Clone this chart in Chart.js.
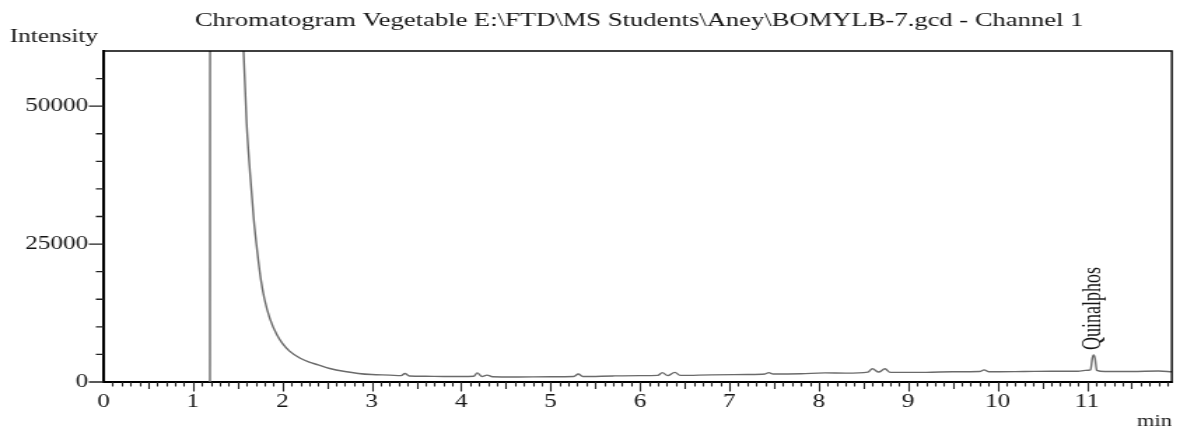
<!DOCTYPE html>
<html>
<head>
<meta charset="utf-8">
<script src="https://cdn.jsdelivr.net/npm/chart.js@4"></script>
<style>
  html, body { margin: 0; padding: 0; background: #fff; }
  #chrom { display: block; }
</style>
</head>
<body>
<!-- the source image is stretched sideways, so the canvas is drawn narrow and widened -->
<canvas id="chrom" width="843" height="428" style="width:1180px;height:428px"></canvas>
<script>
const title = "Chromatogram Vegetable E:\\FTD\\MS Students\\Aney\\BOMYLB-7.gcd - Channel 1";

// retention time (min) and detector signal
const times = [
  1.19, 1.195, 1.56, 1.60, 1.64, 1.68, 1.72, 1.76, 1.80, 1.86, 1.94, 2.00, 2.08, 2.20, 2.30, 2.40,
  2.53, 2.70, 2.85, 3.00, 3.20, 3.33, 3.37, 3.42, 3.60, 3.80, 4.00, 4.14, 4.18, 4.23, 4.29, 4.35,
  4.60, 5.00, 5.26, 5.31, 5.36, 5.70, 6.00, 6.20, 6.25, 6.31, 6.39, 6.45, 6.80, 7.20, 7.40, 7.44,
  7.49, 7.80, 8.07, 8.30, 8.55, 8.60, 8.67, 8.74, 8.80, 9.20, 9.50, 9.80, 9.85, 9.90, 10.30, 10.60,
  10.90, 10.98, 11.04, 11.06, 11.075, 11.09, 11.11, 11.20, 11.50, 11.80, 11.95
];
const intensity = [
  0, 250000, 62000, 47000, 37500, 29500, 23500, 18500, 15000, 11500, 8500, 7000, 5600, 4300, 3600, 3100,
  2450, 1900, 1550, 1350, 1250, 1150, 1550, 1100, 1050, 1000, 1000, 1050, 1650, 1000, 1250, 950,
  900, 950, 1000, 1450, 1000, 1100, 1150, 1200, 1700, 1150, 1750, 1200, 1300, 1350, 1450, 1700,
  1450, 1500, 1650, 1600, 1800, 2400, 1800, 2400, 1750, 1750, 1850, 1900, 2200, 1850, 1900, 1950,
  1950, 2100, 2200, 4300, 4900, 4300, 2100, 1900, 1900, 2000, 1850
];

const peakNames = ["Quinalphos"];
const peakTimes = [11.075];
const peakHeights = [4900];

const xMin = 0, xMax = 11.95, xStep = 0.1;
const yMin = 0, yMax = 60000, yStep = 5000;
const yLabelEvery = 25000;

const points = times.map((t, i) => ({ x: t, y: intensity[i] }));

const serif = '"Liberation Serif", "Times New Roman", serif';
const ink = "#141414";

// frame, tick marks, title, axis captions and peak labels
const chromPlugin = {
  id: "chrom",
  afterDraw(chart) {
    const { ctx, chartArea: a, scales } = chart;
    const x = scales.x, y = scales.y;
    ctx.save();

    ctx.strokeStyle = "#000";
    ctx.lineWidth = 1.4;
    ctx.beginPath();
    ctx.moveTo(a.left, a.top);
    ctx.lineTo(a.right, a.top);
    ctx.lineTo(a.right, a.bottom);
    ctx.stroke();

    ctx.lineWidth = 1.1;
    ctx.strokeStyle = "#222";
    ctx.beginPath();
    x.ticks.forEach(t => {
      const n = Math.round(t.value * 10);
      if (Math.abs(t.value * 10 - n) > 1e-6 || t.value <= 0) return;
      const len = n % 10 === 0 ? 9.5 : (n % 5 === 0 ? 7 : 4.5);
      const px = Math.round(x.getPixelForValue(t.value)) + 0.5;
      ctx.moveTo(px, a.bottom);
      ctx.lineTo(px, a.bottom + len);
    });
    ctx.stroke();

    ctx.lineWidth = 1.3;
    ctx.beginPath();
    y.ticks.forEach(t => {
      if (t.value <= 0 || t.value >= yMax) return;
      const len = t.value % yLabelEvery === 0 ? 10.5 : 5.5;
      const py = y.getPixelForValue(t.value);
      ctx.moveTo(a.left, py);
      ctx.lineTo(a.left - len, py);
    });
    const p0 = y.getPixelForValue(0);
    ctx.moveTo(a.left, p0);
    ctx.lineTo(a.left - 10.5, p0);
    ctx.stroke();

    ctx.fillStyle = ink;
    ctx.font = "19px " + serif;
    ctx.textBaseline = "alphabetic";
    ctx.textAlign = "center";
    ctx.fillText(title, (a.left + a.right) / 2 + 1, 26);
    ctx.font = "18px " + serif;
    ctx.textAlign = "left";
    ctx.fillText("Intensity", 7, 42);
    ctx.textAlign = "right";
    ctx.font = "16px " + serif;
    ctx.fillText("min", a.right, 426);

    ctx.font = "18px " + serif;
    peakNames.forEach((name, i) => {
      const px = x.getPixelForValue(peakTimes[i]);
      const py = y.getPixelForValue(peakHeights[i]) - 5;
      ctx.save();
      ctx.translate(px, py);
      ctx.rotate(-Math.PI / 2);
      ctx.textAlign = "left";
      ctx.textBaseline = "middle";
      ctx.fillText(name, 0, 0);
      ctx.restore();
    });

    ctx.restore();
  }
};

new Chart(document.getElementById("chrom"), {
  type: "line",
  data: {
    datasets: [{
      data: points,
      borderColor: "#6a6a6a",
      borderWidth: 1.4,
      pointRadius: 0,
      fill: false,
      cubicInterpolationMode: "monotone"
    }]
  },
  options: {
    responsive: false,
    animation: false,
    events: [],
    layout: { padding: { top: 51, right: 4, left: 0, bottom: 0 } },
    plugins: { legend: { display: false }, tooltip: { enabled: false }, title: { display: false } },
    scales: {
      x: {
        type: "linear",
        min: xMin,
        max: xMax,
        afterFit: s => { s.height = 46; },
        grid: { display: false, drawTicks: false },
        border: { display: true, color: "#000", width: 2 },
        ticks: {
          stepSize: xStep,
          maxTicksLimit: 1000,
          autoSkip: false,
          maxRotation: 0,
          includeBounds: false,
          padding: 9,
          color: ink,
          font: { family: serif, size: 18 },
          callback: v => Math.abs(v - Math.round(v)) < 1e-6 ? String(Math.round(v)) : ""
        }
      },
      y: {
        min: yMin,
        max: yMax,
        afterFit: s => { s.width = 74; },
        grid: { display: false, drawTicks: false },
        border: { display: true, color: "#000", width: 2 },
        ticks: {
          stepSize: yStep,
          autoSkip: false,
          padding: 11,
          color: ink,
          font: { family: serif, size: 18 },
          callback: v => v % yLabelEvery === 0 && v < yMax ? String(v) : ""
        }
      }
    }
  },
  plugins: [chromPlugin]
});
</script>
</body>
</html>
